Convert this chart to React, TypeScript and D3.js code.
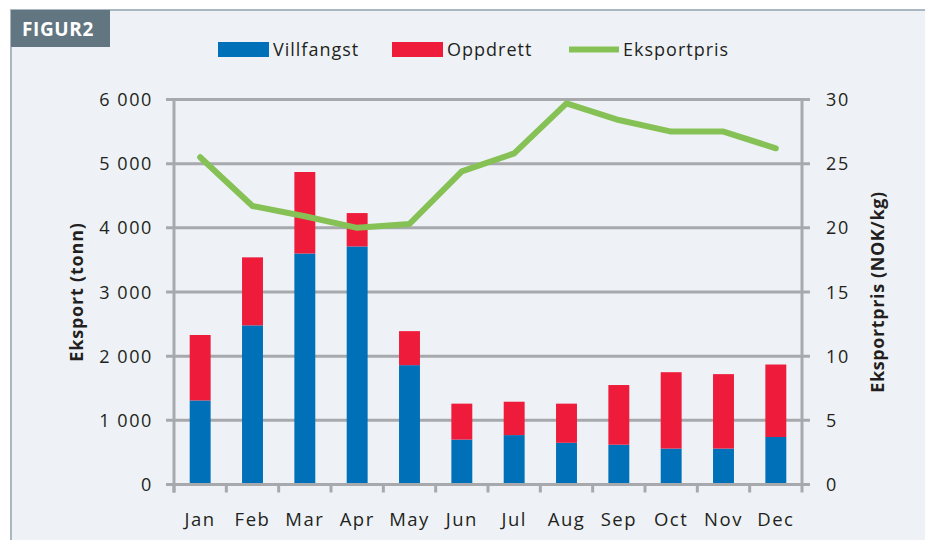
import React from 'react';
import { scaleBand, scaleLinear, line } from 'd3';

const width = 925;
const height = 540;

const months = ['Jan', 'Feb', 'Mar', 'Apr', 'May', 'Jun', 'Jul', 'Aug', 'Sep', 'Oct', 'Nov', 'Dec'];
const villfangst = [1310, 2480, 3600, 3710, 1860, 700, 770, 650, 620, 560, 560, 740];
const oppdrett = [1020, 1060, 1270, 520, 530, 560, 520, 610, 930, 1190, 1160, 1130];
const eksportpris = [25.5, 21.7, 20.9, 20.0, 20.3, 24.4, 25.8, 29.7, 28.4, 27.5, 27.5, 26.2];
const leftTicks = [0, 1000, 2000, 3000, 4000, 5000, 6000];
const rightTicks = [0, 5, 10, 15, 20, 25, 30];

const blue = '#0070b8';
const red = '#ee1b3b';
const green = '#86c156';
const grid = '#a8a9ad';
const textColor = '#231f20';
const font = '"Open Sans", "Noto Sans", sans-serif';

const left = 174;
const right = 802;
const top = 99.5;
const bottom = 484.5;

const x = scaleBand().domain(months).range([left, right]).paddingInner(0.6).paddingOuter(0.3);
const band = scaleBand().domain(months).range([left, right]);
const yL = scaleLinear().domain([0, 6000]).range([bottom, top]);
const yR = scaleLinear().domain([0, 30]).range([bottom, top]);

// "6 000" style labels
const fmt = (v: number) => (v >= 1000 ? `${Math.floor(v / 1000)} ${String(v % 1000).padStart(3, '0')}` : String(v));

const priceLine = line<number>()
    .x((_, i) => (band(months[i]) as number) + band.bandwidth() / 2)
    .y(d => yR(d));

export default function App() {
    return (
        <svg width={width} height={height} style={{ position: 'absolute', left: 0, top: 0 }} fontFamily={font}>
            <rect x={0} y={0} width={width} height={height} fill="#ffffff" />
            <rect x={11} y={10} width={width + 10} height={height} fill="#eef2f6" stroke="#a9b7c0" strokeWidth={2} />
            <rect x={11} y={10} width={99} height={37} fill="#627681" />
            <text x={22} y={36} fill="#ffffff" fontSize={19} fontWeight={700} letterSpacing={0.6}>FIGUR2</text>

            {/* legend */}
            <rect x={218} y={42} width={51} height={15} fill={blue} />
            <text x={273} y={56} fontSize={18} letterSpacing={1} fill={textColor}>Villfangst</text>
            <rect x={392} y={42} width={51} height={15} fill={red} />
            <text x={447} y={56} fontSize={18} letterSpacing={1} fill={textColor}>Oppdrett</text>
            <line x1={569} x2={619} y1={49.5} y2={49.5} stroke={green} strokeWidth={6} />
            <text x={623} y={56} fontSize={18} letterSpacing={1} fill={textColor}>Eksportpris</text>

            {/* gridlines and left ticks */}
            {leftTicks.map(t => (
                <g key={t}>
                    <line x1={166} x2={right + 8} y1={yL(t)} y2={yL(t)} stroke={grid} strokeWidth={3} />
                    <text x={153} y={yL(t) + 6.5} textAnchor="end" fontSize={18} letterSpacing={1.6} fill={textColor}>{fmt(t)}</text>
                </g>
            ))}
            {rightTicks.map(t => (
                <text key={t} x={826} y={yR(t) + 6.5} fontSize={18} letterSpacing={1.6} fill={textColor}>{t}</text>
            ))}

            {/* axes */}
            <line x1={left} x2={left} y1={top - 1.5} y2={bottom + 8} stroke={grid} strokeWidth={3} />
            <line x1={right} x2={right} y1={top - 1.5} y2={bottom + 8} stroke={grid} strokeWidth={3} />
            {months.map(m => (
                <line key={m} x1={band(m) as number} x2={band(m) as number} y1={bottom} y2={bottom + 8} stroke={grid} strokeWidth={3} />
            ))}

            {/* bars */}
            {months.map((m, i) => (
                <g key={m}>
                    <rect x={x(m)} y={yL(villfangst[i])} width={x.bandwidth()} height={yL(0) - yL(villfangst[i]) - 1.5} fill={blue} />
                    <rect x={x(m)} y={yL(villfangst[i] + oppdrett[i])} width={x.bandwidth()} height={yL(villfangst[i]) - yL(villfangst[i] + oppdrett[i])} fill={red} />
                </g>
            ))}

            <path d={priceLine(eksportpris) as string} fill="none" stroke={green} strokeWidth={6} strokeLinejoin="round" strokeLinecap="round" />

            {/* x labels */}
            {months.map(m => (
                <text key={m} x={(band(m) as number) + band.bandwidth() / 2} y={526} textAnchor="middle" fontSize={18.5} letterSpacing={1.5} fill={textColor}>{m}</text>
            ))}

            {/* axis titles */}
            <text transform={`translate(83, ${(top + bottom) / 2}) rotate(-90)`} textAnchor="middle" fontSize={18} fontWeight={700} letterSpacing={0.8} fill={textColor}>Eksport (tonn)</text>
            <text transform={`translate(884, ${(top + bottom) / 2}) rotate(-90)`} textAnchor="middle" fontSize={18} fontWeight={700} letterSpacing={0.6} fill={textColor}>Eksportpris (NOK/kg)</text>
        </svg>
    );
}
